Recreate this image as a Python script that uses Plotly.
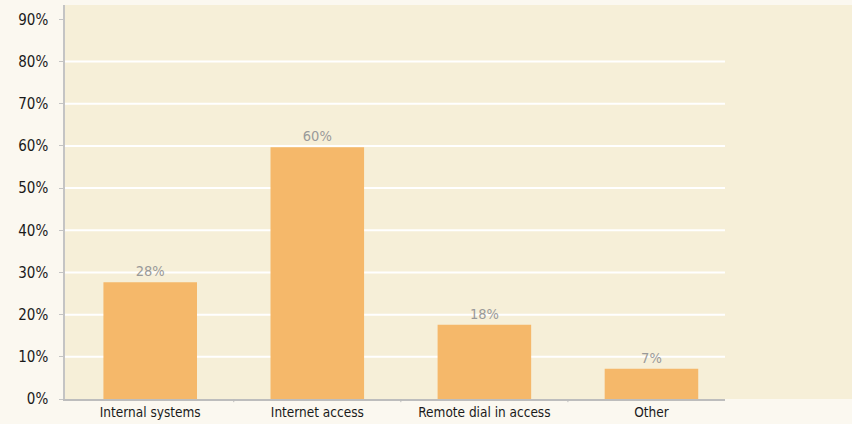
import plotly.graph_objects as go

categories = ["Internal systems", "Internet access", "Remote dial in access", "Other"]
values = [27.7, 59.7, 17.6, 7.2]
labels = ["28%", "60%", "18%", "7%"]
y_ticks = [0, 10, 20, 30, 40, 50, 60, 70, 80, 90]
grid_values = [10, 20, 30, 40, 50, 60, 70, 80]

FONT = "DejaVu Sans Condensed, DejaVu Sans, sans-serif"
CREAM = "#f6efd8"
PAPER = "#fbf8f0"

fig = go.Figure()
fig.add_trace(go.Bar(
    x=list(range(len(categories))),
    y=values,
    text=labels,
    textposition="outside",
    textfont=dict(family=FONT, size=14.5, color="#9a9a9a"),
    marker=dict(color="#f5b86a", line=dict(width=0)),
    width=0.56,
    cliponaxis=False,
))

shapes = [dict(type="rect", xref="paper", yref="paper", x0=0, x1=1, y0=0, y1=1,
               fillcolor=CREAM, line=dict(width=0), layer="below")]
for g in grid_values:
    shapes.append(dict(type="line", xref="x domain", yref="y", x0=0, x1=1, y0=g, y1=g,
                       line=dict(color="white", width=2), layer="below"))

fig.update_layout(
    width=852, height=424,
    margin=dict(l=65, r=0, t=5, b=25),
    paper_bgcolor=PAPER,
    plot_bgcolor="rgba(0,0,0,0)",
    showlegend=False,
    shapes=shapes,
    font=dict(family=FONT, size=14, color="#1a1a1a"),
    xaxis=dict(
        domain=[0, 0.8386],
        range=[-0.51, 3.44],
        tickmode="array",
        tickvals=list(range(len(categories))),
        ticktext=categories,
        showgrid=False,
        showline=True, linecolor="#bdbdbd", linewidth=1.5,
        ticks="",
        tickfont=dict(family=FONT, size=13.5, color="#1a1a1a"),
        zeroline=False,
    ),
    yaxis=dict(
        range=[0, 93.4],
        tickvals=y_ticks,
        ticktext=[f"{t}%" for t in y_ticks],
        showgrid=False,
        showline=True, linecolor="#c4c4c4", linewidth=1.5,
        ticks="outside", ticklen=4, tickcolor="#c4c4c4",
        ticklabelstandoff=8,
        tickfont=dict(family=FONT, size=15, color="#1a1a1a"),
        zeroline=False,
    ),
)

for b in [0.5, 1.5, 2.5]:
    fig.add_shape(type="line", xref="x", yref="paper", x0=b, x1=b, y0=0, y1=-0.008,
                  line=dict(color="#bdbdbd", width=1))

fig.write_html("out.html", config={"displayModeBar": False},
               post_script="document.body.style.margin='0';document.body.style.padding='0';")
